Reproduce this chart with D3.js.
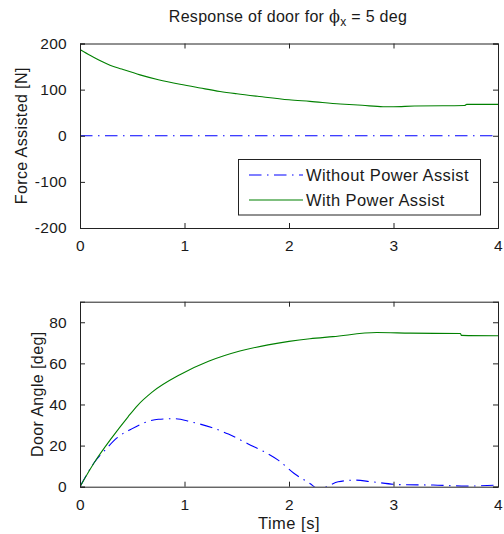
<!DOCTYPE html>
<html>
<head>
<meta charset="utf-8">
<script src="https://cdn.jsdelivr.net/npm/d3@7"></script>
<style>
  body { margin: 0; background: #fff; }
  text { font-family: "Liberation Sans", Arial, sans-serif; fill: #1a1a1a; }
</style>
</head>
<body>
<div id="chart"></div>
<script>
// time ticks shared by both panels
const timeTicks = [0, 1, 2, 3, 4];

// force assisted [N]
const forceTime = [0, 0.1, 0.2, 0.287, 0.4, 0.574, 0.75, 0.957, 1.15, 1.34, 1.5, 1.72, 2.0, 2.2, 2.49, 2.7, 2.9, 3.0, 3.2, 3.48, 3.68, 3.7, 4.0];
const forceWith = [187, 174, 162, 153, 144.5, 132, 121.5, 111.5, 103.5, 96, 91, 85, 78, 74.5, 69, 66, 63, 63, 64.5, 65, 65.5, 68, 68];
const forceWithout = forceTime.map(() => 0);
const forceTicks = [-200, -100, 0, 100, 200];

// door angle [deg]
const angleTime = [0, 0.14, 0.3, 0.46, 0.55, 0.69, 0.96, 1.23, 1.53, 1.8, 2.0, 2.2, 2.42, 2.84, 3.16, 3.64, 3.65, 4.0];
const angleWith = [0, 12, 23.5, 34, 39.5, 46, 54.6, 61, 66, 69, 70.7, 72, 73, 75, 74.7, 74.5, 73.6, 73.4];
const angleTime2 = [0, 0.14, 0.236, 0.36, 0.49, 0.62, 0.75, 0.91, 1.065, 1.26, 1.42, 1.61, 1.77, 1.9, 2.05, 2.2, 2.28, 2.36, 2.47, 2.63, 2.79, 3.06, 3.38, 3.7, 4.0];
const angleWithout = [0, 12, 17.6, 24, 28, 31.2, 32.8, 33.1, 31.5, 28.8, 25.6, 20.8, 16.8, 12.8, 6.4, 1.6, -1, 0, 2.4, 3.2, 2.4, 1, 0.8, 0.3, 0.8];
const angleTicks = [0, 20, 40, 60, 80];

const legendLabels = ["Without Power Assist", "With Power Assist"];

const width = 504, height = 534;
const blue = "#0000ff", green = "#008000";
const dashDot = "12.5,5.5,1.5,5.5";

const svg = d3.select("#chart").append("svg")
    .attr("width", width)
    .attr("height", height);

function drawPanel(opts) {
    const x = d3.scaleLinear().domain([0, 4]).range([80, 498]);
    const y = d3.scaleLinear().domain(opts.yDomain).range([opts.bottom, opts.top]);
    const g = svg.append("g");

    const clipId = "clip" + opts.id;
    g.append("clipPath").attr("id", clipId)
        .append("rect")
        .attr("x", 80).attr("y", opts.top)
        .attr("width", 418).attr("height", opts.bottom - opts.top);

    const line = d3.line()
        .x(d => x(d[0]))
        .y(d => y(d[1]))
        .curve(d3.curveMonotoneX);
    const plot = g.append("g").attr("clip-path", `url(#${clipId})`);

    opts.series.forEach(s => {
        plot.append("path")
            .datum(d3.zip(s.t, s.v))
            .attr("fill", "none")
            .attr("stroke", s.color)
            .attr("stroke-width", 1.1)
            .attr("stroke-dasharray", s.dash || null)
            .attr("d", line);
    });

    // axes, MATLAB style: ticks inside, mirrored on all four sides
    const tickLen = -5;
    const fmt = d => String(d);
    g.append("g").attr("transform", `translate(0,${opts.bottom})`)
        .call(d3.axisBottom(x).tickValues(timeTicks).tickSize(tickLen).tickPadding(12).tickFormat(fmt));
    g.append("g").attr("transform", `translate(0,${opts.top})`)
        .call(d3.axisTop(x).tickValues(timeTicks).tickSize(tickLen).tickFormat(""));
    g.append("g").attr("transform", "translate(80,0)")
        .call(d3.axisLeft(y).tickValues(opts.yTicks).tickSize(tickLen).tickPadding(13).tickFormat(fmt));
    g.append("g").attr("transform", "translate(498,0)")
        .call(d3.axisRight(y).tickValues(opts.yTicks).tickSize(tickLen).tickFormat(""));

    g.selectAll(".domain").attr("stroke", "#222");
    g.selectAll(".tick line").attr("stroke", "#222");
    g.selectAll(".tick text")
        .style("font-family", "'Liberation Sans', Arial, sans-serif")
        .style("font-size", "15.5px")
        .style("letter-spacing", "0.3px")
        .attr("fill", "#1a1a1a");

    g.append("text")
        .attr("transform", `translate(${opts.yLabelX},${(opts.top + opts.bottom) / 2}) rotate(-90)`)
        .attr("text-anchor", "middle")
        .style("font-size", "16px")
        .style("letter-spacing", "0.4px")
        .text(opts.yLabel);

    return {x, y, g};
}

const forcePanel = drawPanel({
    id: 1, top: 43.5, bottom: 228, yDomain: [-200, 200], yTicks: forceTicks,
    yLabel: "Force Assisted [N]", yLabelX: 27,
    series: [
        {t: forceTime, v: forceWithout, color: blue, dash: dashDot},
        {t: forceTime, v: forceWith, color: green}
    ]
});

const anglePanel = drawPanel({
    id: 2, top: 301.7, bottom: 486.7, yDomain: [0, 90], yTicks: angleTicks,
    yLabel: "Door Angle [deg]", yLabelX: 43,
    series: [
        {t: angleTime2, v: angleWithout, color: blue, dash: dashDot},
        {t: angleTime, v: angleWith, color: green}
    ]
});

// title
const title = svg.append("text")
    .attr("x", 288).attr("y", 22)
    .attr("text-anchor", "middle")
    .style("font-size", "16px")
    .style("letter-spacing", "0.3px");
title.append("tspan").text("Response of door for ");
title.append("tspan").style("font-family", "'DejaVu Serif', serif").text("\u03d5");
title.append("tspan").attr("dy", 4).style("font-size", "12px").text("x");
title.append("tspan").attr("dy", -4).text(" = 5 deg");

// x label
svg.append("text")
    .attr("x", 289).attr("y", 529)
    .attr("text-anchor", "middle")
    .style("font-size", "16.5px")
    .style("letter-spacing", "0.5px")
    .text("Time [s]");

// legend in the upper panel
const legend = forcePanel.g.append("g");
legend.append("rect")
    .attr("x", 238.5).attr("y", 159.5)
    .attr("width", 242).attr("height", 55.5)
    .attr("fill", "#fff").attr("stroke", "#222");
const legendColors = [blue, green];
const legendDash = [dashDot, null];
legendLabels.forEach((label, i) => {
    const ly = 175 + i * 25;
    legend.append("line")
        .attr("x1", 249).attr("x2", 303)
        .attr("y1", ly).attr("y2", ly)
        .attr("stroke", legendColors[i])
        .attr("stroke-width", 1.1)
        .attr("stroke-dasharray", legendDash[i]);
    legend.append("text")
        .attr("x", 306).attr("y", ly + 6)
        .style("font-size", "16.5px")
        .style("letter-spacing", "0.4px")
        .text(label);
});
</script>
</body>
</html>
